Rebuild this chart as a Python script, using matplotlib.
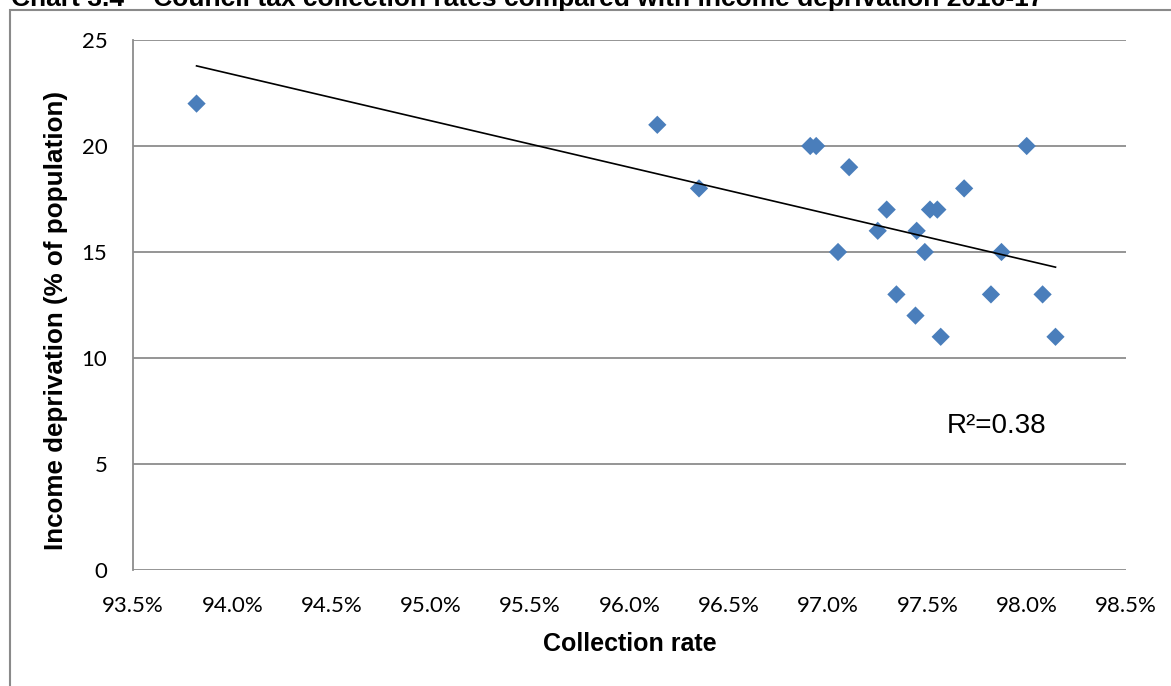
import numpy as np
import matplotlib
matplotlib.use("Agg")
import matplotlib.pyplot as plt
from matplotlib.patches import Rectangle

# Data (collection rate %, income deprivation % of population)
collection_rate = [93.82, 96.14, 96.35, 96.91, 96.94, 97.106, 97.05, 97.25, 97.295,
                   97.446, 97.487, 97.513, 97.55, 97.685, 98.0, 97.873, 97.344,
                   97.44, 97.567, 97.82, 98.08, 98.145]
income_deprivation = [22, 21, 18, 20, 20, 19, 15, 16, 17,
                      16, 15, 17, 17, 18, 20, 15, 13,
                      12, 11, 13, 13, 11]
x_ticks = [93.5, 94.0, 94.5, 95.0, 95.5, 96.0, 96.5, 97.0, 97.5, 98.0, 98.5]
y_ticks = [0, 5, 10, 15, 20, 25]
title = "Chart 3.4 \u2013 Council tax collection rates compared with income deprivation 2016-17"
r2_label = "R\u00b2=0.38"

W, H = 1171, 686
fig = plt.figure(figsize=(W / 100, H / 100), dpi=100)

# outer frame
fig.patches.append(Rectangle((10 / W, -0.05), 1.2, (H - 10) / H + 0.05,
                             transform=fig.transFigure, fill=False,
                             edgecolor="#8a8a8a", linewidth=1.5, zorder=0))
# title (clipped at top, as in the source)
fig.text(11 / W, 1 - 6 / H, title, fontfamily="Liberation Sans", fontweight="bold",
         fontsize=19, ha="left", va="baseline", color="black")

ax = fig.add_axes([133 / W, 1 - 570 / H, (1126 - 133) / W, (570 - 40) / H])
ax.set_xlim(93.5, 98.5)
ax.set_ylim(0, 25)

grid_c = "#8c8c8c"
for yv in y_ticks:
    ax.axhline(yv, color=grid_c, linewidth=1.3, zorder=1)
for s in ["top", "right", "bottom"]:
    ax.spines[s].set_visible(False)
ax.spines["left"].set_color(grid_c)
ax.spines["left"].set_linewidth(1.3)

ax.scatter(collection_rate, income_deprivation, marker="D", s=9.3 ** 2,
           color="#4a7ebb", edgecolors="none", zorder=3)

# linear trend line
xs = np.array(collection_rate)
ys = np.array(income_deprivation)
m, b = np.polyfit(xs, ys, 1)
xl = np.array([xs.min(), xs.max()])
ax.plot(xl, m * xl + b, color="black", linewidth=1.2, zorder=4)

ax.text(0.870, 0.272, r2_label, transform=ax.transAxes, fontfamily="Liberation Sans",
        fontsize=20, ha="center", va="center", color="black")

ax.set_xticks(x_ticks)
ax.set_xticklabels([f"{v:.1f}%" for v in x_ticks])
ax.set_yticks(y_ticks)
ax.set_yticklabels([str(v) for v in y_ticks])
ax.tick_params(axis="both", length=0, labelsize=16, colors="black")
ax.tick_params(axis="x", pad=19)
ax.tick_params(axis="y", pad=18.5)
for lab in ax.get_xticklabels() + ax.get_yticklabels():
    lab.set_fontfamily("Lato")

ax.set_xlabel("Collection rate", fontfamily="Liberation Sans", fontweight="bold",
              fontsize=18, va="center")
ax.xaxis.set_label_coords(0.5, (570 - 644) / 530)
ax.set_ylabel("Income deprivation (% of population)", fontfamily="Liberation Sans",
              fontweight="bold", fontsize=18.7, va="center")
ax.yaxis.set_label_coords((56 - 133) / 993, (570 - 321) / 530)

fig.savefig("out.png", dpi=100)
